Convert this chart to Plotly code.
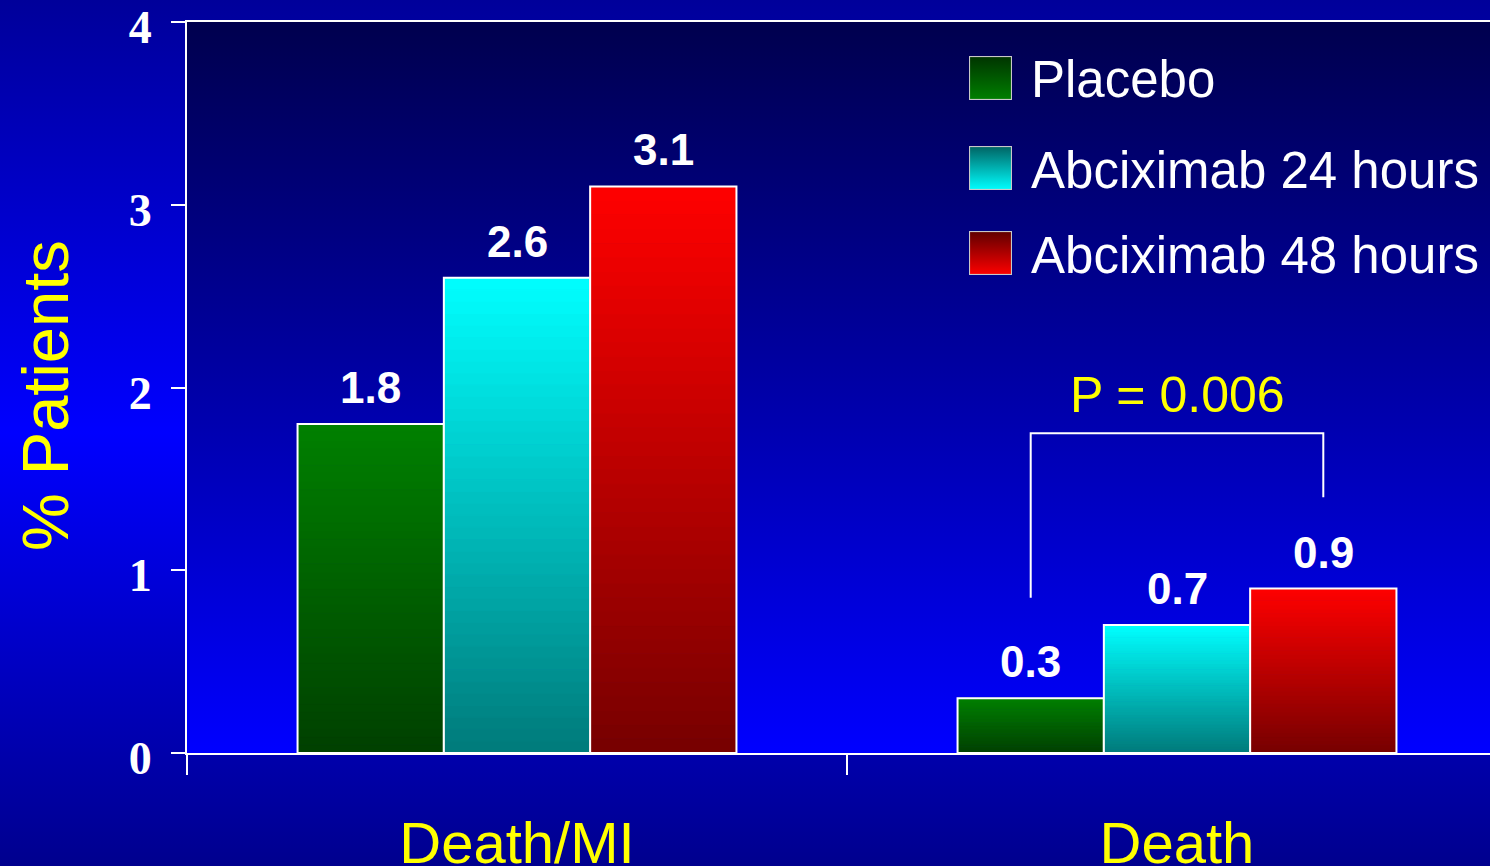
import base64
import plotly.graph_objects as go

# data
categories = ["Death/MI", "Death"]
series_names = ["Placebo", "Abciximab 24 hours", "Abciximab 48 hours"]
placebo = [1.8, 0.3]
abx24 = [2.6, 0.7]
abx48 = [3.1, 0.9]
y_ticks = [0, 1, 2, 3, 4]
p_text = "P = 0.006"

# gradient colours (bottom, top) per series
bar_cols = [((0, 64, 0), (0, 128, 0)),
            ((0, 122, 122), (0, 255, 255)),
            ((118, 0, 0), (255, 0, 0))]

W, H = 1490, 866
L, R, T, B = 187, 0, 22, 113
pw, ph = W - L - R, H - T - B

n_seg = 40
bargap = 0.335
font = "Arial, Liberation Sans, sans-serif"


def svg_uri(svg):
    return "data:image/svg+xml;base64," + base64.b64encode(svg.encode()).decode()


def grad_svg(stops, stroke=None):
    st = "".join('<stop offset="%s" stop-color="%s"/>' % (o, c) for o, c in stops)
    border = ""
    if stroke:
        border = '<rect x="1" y="1" width="98" height="98" fill="none" stroke="%s" stroke-width="3"/>' % stroke
    return ('<svg xmlns="http://www.w3.org/2000/svg" width="100" height="100" viewBox="0 0 100 100" preserveAspectRatio="none">'
            '<defs><linearGradient id="g" x1="0" y1="0" x2="0" y2="1">' + st + '</linearGradient></defs>'
            '<rect width="100" height="100" fill="url(#g)"/>' + border + '</svg>')


def mix(a, b, t):
    return "rgb(%d,%d,%d)" % tuple(round(a[k] + (b[k] - a[k]) * t) for k in range(3))


fig = go.Figure()
xs = list(range(len(categories)))
all_vals = [placebo, abx24, abx48]

for s, vals in enumerate(all_vals):
    lo, hi = bar_cols[s]
    for i in range(n_seg):
        c = mix(lo, hi, (i + 0.5) / n_seg)
        fig.add_trace(go.Bar(
            x=xs, y=[v / n_seg for v in vals], base=[v * i / n_seg for v in vals],
            offsetgroup=str(s), marker=dict(color=c, line=dict(width=1, color=c)),
            showlegend=False, hoverinfo="skip"))
    fig.add_trace(go.Bar(
        x=xs, y=vals, offsetgroup=str(s), name=series_names[s],
        marker=dict(color="rgba(0,0,0,0)", line=dict(color="white", width=2)),
        showlegend=False))

# value labels
bw = (1 - bargap) / 3
annotations = []
for s, vals in enumerate(all_vals):
    for i, v in enumerate(vals):
        annotations.append(dict(x=xs[i] + (s - 1) * bw, y=v, xref="x", yref="y", text="<b>%s</b>" % v,
                                showarrow=False, yanchor="bottom", yshift=10,
                                font=dict(family=font, size=44, color="white")))

# y axis title
annotations.append(dict(x=(45 - L) / pw, y=(H - B - 396) / ph, xref="paper", yref="paper", text="% Patients",
                        textangle=-90, showarrow=False, xanchor="center", yanchor="middle",
                        font=dict(family=font, size=65, color="#FFFF00")))

# p value bracket
br_x = [1 - bw, 1 + bw]
br_top, br_left, br_right = 1.75, 0.85, 1.40
fig.add_shape(type="path", xref="x", yref="y",
              path="M %f,%f L %f,%f L %f,%f L %f,%f" % (br_x[0], br_left, br_x[0], br_top, br_x[1], br_top, br_x[1], br_right),
              line=dict(color="white", width=2))
annotations.append(dict(x=1, y=1.96, xref="x", yref="y", text=p_text, showarrow=False,
                        font=dict(family=font, size=50, color="#FFFF00")))

# backgrounds + manual legend
images = []
images.append(dict(source=svg_uri(grad_svg([(0, "#00009A"), (0.5, "#0000FF"), (1, "#00008E")])),
                   xref="paper", yref="paper", x=-L / pw, y=1 + T / ph, sizex=W / pw, sizey=H / ph,
                   sizing="stretch", layer="below", xanchor="left", yanchor="top"))
images.append(dict(source=svg_uri(grad_svg([(0, "#00004E"), (1, "#0000FF")])),
                   xref="paper", yref="paper", x=0, y=1, sizex=1, sizey=1,
                   sizing="stretch", layer="below", xanchor="left", yanchor="top"))
leg_top = [56, 146, 231]
for s in range(3):
    lo, hi = bar_cols[s]
    images.append(dict(source=svg_uri(grad_svg([(0, mix(lo, (0, 0, 0), 0.2)), (1, mix(hi, hi, 0))], stroke="#C8C8C8")),
                       xref="paper", yref="paper", x=(969 - L) / pw, y=(H - B - leg_top[s]) / ph,
                       sizex=43 / pw, sizey=44 / ph, sizing="stretch", layer="above",
                       xanchor="left", yanchor="top"))
    annotations.append(dict(x=(1029 - L) / pw, y=(H - B - leg_top[s] - 24) / ph, xref="paper", yref="paper",
                            text=series_names[s], showarrow=False, xanchor="left", yanchor="middle",
                            font=dict(family=font, size=51, color="white")))

fig.update_layout(
    width=W, height=H, margin=dict(l=L, r=R, t=T, b=B),
    paper_bgcolor="#0000A8", plot_bgcolor="rgba(0,0,0,0)",
    barmode="group", bargap=bargap, bargroupgap=0,
    showlegend=False, annotations=annotations, images=images,
)
fig.update_xaxes(range=[-0.5, (W - L) / 660 - 0.5], tickvals=xs, ticktext=categories, ticks="",
                 tickfont=dict(family=font, size=58, color="#FFFF00"), ticklabelstandoff=38, automargin=False,
                 showline=True, linecolor="white", linewidth=2, mirror=True, showgrid=False, zeroline=False,
                 minor=dict(tick0=-0.5, dtick=1, ticks="outside", ticklen=20, tickwidth=2, tickcolor="white"))
fig.update_yaxes(range=[0, 4], tickvals=y_ticks, ticks="outside", ticklen=14, tickwidth=2, tickcolor="white",
                 tickfont=dict(family="Times New Roman, Liberation Serif, serif", size=46, color="white", weight="bold"),
                 ticklabelstandoff=10, ticklabelshift=5, ticklabeloverflow="allow", automargin=False,
                 showline=True, linecolor="white", linewidth=2, mirror=False,
                 showgrid=False, zeroline=False)

fig.write_html("out.html", config={"displayModeBar": False},
               post_script="document.body.style.margin='0';")
